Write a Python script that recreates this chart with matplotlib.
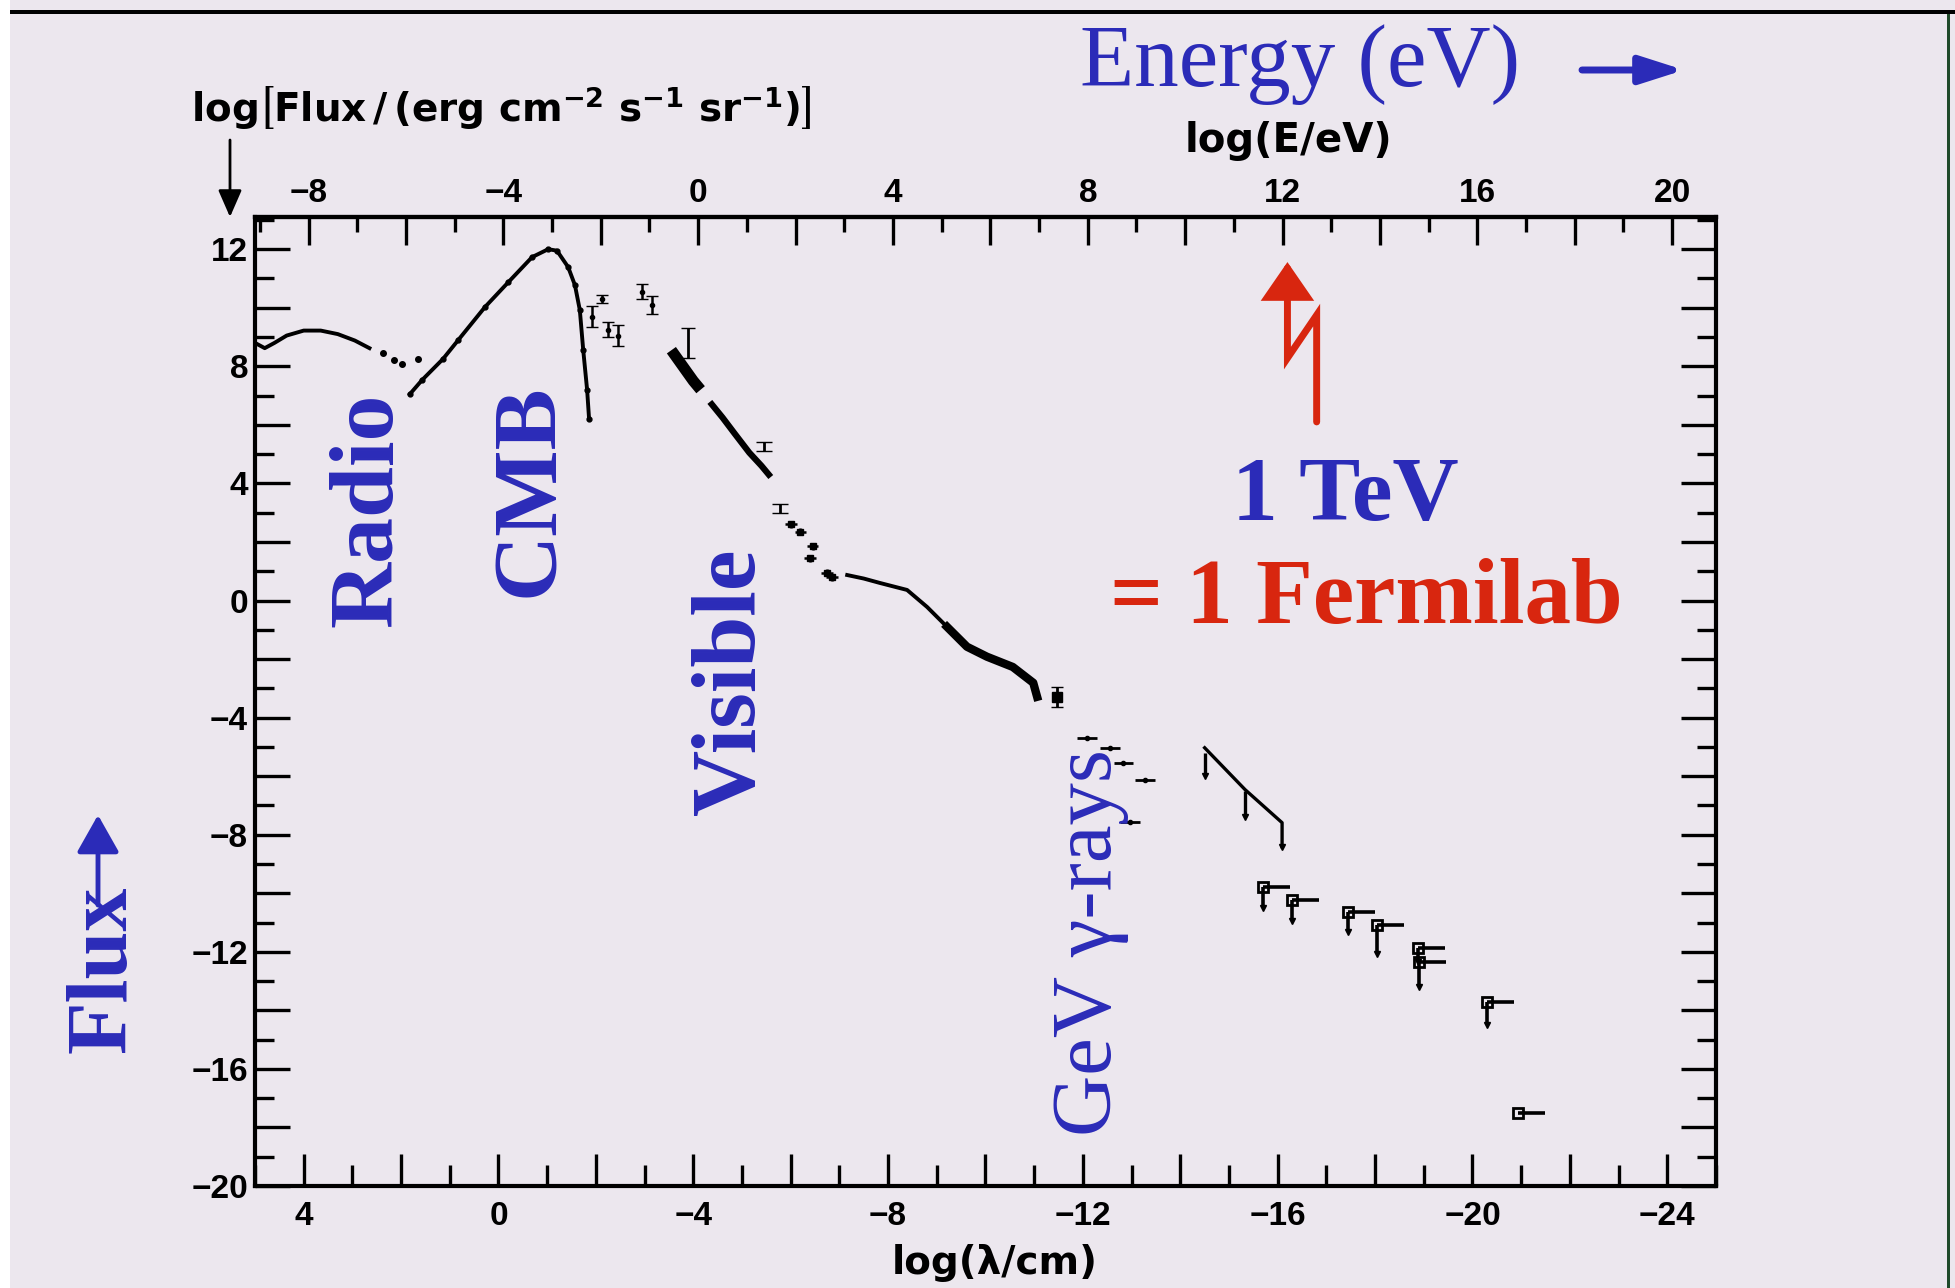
import matplotlib
matplotlib.use("Agg")
import matplotlib.pyplot as plt
from matplotlib.ticker import MultipleLocator, FuncFormatter
from matplotlib.patches import FancyArrowPatch, Rectangle
from matplotlib.path import Path

# ---------------- data ----------------
# log(lambda/cm) , log(flux)
radio_x = [5.0, 4.8, 4.6, 4.35, 4.0, 3.65, 3.3, 2.95, 2.65]
radio_y = [8.8, 8.62, 8.8, 9.05, 9.22, 9.22, 9.1, 8.88, 8.62]
radio_dot_x = [2.37, 2.15, 1.98, 1.65]
radio_dot_y = [8.45, 8.2, 8.08, 8.25]

cmb_x = [1.82, 1.57, 1.14, 0.83, 0.28, -0.20, -0.69, -1.02, -1.2, -1.43, -1.57, -1.67, -1.74, -1.82, -1.86]
cmb_y = [7.05, 7.53, 8.25, 8.89, 10.02, 10.87, 11.73, 12.0, 11.95, 11.39, 10.77, 9.92, 8.55, 7.19, 6.2]

fir_x = [-1.92, -2.13, -2.25, -2.45, -2.95, -3.15]
fir_y = [9.7, 10.3, 9.25, 9.05, 10.55, 10.1]
fir_err = [0.35, 0.15, 0.25, 0.35, 0.25, 0.3]

opt_x = [-3.55, -3.7, -3.85, -4.0, -4.15]
opt_y = [8.55, 8.2, 7.85, 7.5, 7.2]
opt_bar_x = [-3.89]
opt_bar_y = [8.8]
opt_bar_err = [0.5]

uv_x = [-4.38, -4.6, -4.85, -5.15, -5.4, -5.55]
uv_y = [6.7, 6.25, 5.7, 5.05, 4.6, 4.3]
uv_lim_x = [-5.45, -5.78]
uv_lim_y = [5.4, 3.3]

sx_x = [-6.0, -6.2, -6.45, -6.4, -6.75, -6.85]
sx_y = [2.6, 2.35, 1.85, 1.45, 0.95, 0.8]

xr_x = [-7.16, -7.5, -7.83, -8.39, -8.8, -9.21, -9.62, -10.03, -10.56, -10.98, -11.06]
xr_y = [0.87, 0.75, 0.60, 0.36, -0.22, -0.9, -1.58, -1.92, -2.27, -2.81, -3.29]

hx_x = [-11.47]
hx_y = [-3.3]

gam_x = [-12.08, -12.56, -12.83, -13.28, -12.97]
gam_y = [-4.69, -5.03, -5.54, -6.12, -7.56]

tev_x = [-14.5, -15.33, -16.09, -16.09]
tev_y = [-5.03, -6.46, -7.59, -8.41]
tev_lim_x = [-14.5, -15.33]
tev_lim_top = [-5.2, -6.5]
tev_lim_bot = [-6.0, -7.4]

uhe_x = [-15.7, -16.29, -17.44, -18.04, -18.88, -18.9, -20.3, -20.93]
uhe_y = [-9.77, -10.22, -10.63, -11.07, -11.86, -12.35, -13.7, -17.49]
uhe_down = [0.74, 0.74, 0.68, 1.0, 0.5, 0.85, 0.8, 0.0]
uhe_bar = [0.55, 0.55, 0.55, 0.55, 0.55, 0.55, 0.55, 0.55]

E_OFFSET = -4.1          # log(E/eV) = E_OFFSET - log(lambda/cm)  (axis as drawn)
TEV_LOG_E = 12

# ---------------- style ----------------
BG = '#ECE7EE'
BLUE = '#2B2BB8'
RED = '#D8260F'
W, H = 1956, 1288

plt.rcParams['font.family'] = ['Liberation Sans', 'DejaVu Sans']
plt.rcParams['font.weight'] = 'bold'
plt.rcParams['mathtext.fontset'] = 'dejavusans'


def fx(px):
    return px / W


def fy(py):
    return 1 - py / H


fig = plt.figure(figsize=(W / 100, H / 100), dpi=100, facecolor=BG)
ax = fig.add_axes([fx(255), fy(1186), (1716 - 255) / W, (1186 - 217) / H])
ax.set_facecolor(BG)
ax.set_xlim(5, -25)
ax.set_ylim(-20, 13.1)


def fmt4(v, pos):
    n = int(round(v))
    if n % 4:
        return ''
    return ('\u2212' + str(-n)) if n < 0 else str(n)


for a in (ax.xaxis, ax.yaxis):
    a.set_major_locator(MultipleLocator(2))
    a.set_minor_locator(MultipleLocator(1))
    a.set_major_formatter(FuncFormatter(fmt4))

ax.tick_params(axis='both', which='both', direction='in', top=False, right=True,
               width=2.4, color='black', labelsize=24)
ax.tick_params(axis='y', which='major', length=25, pad=5)
ax.tick_params(axis='y', which='minor', length=14)
ax.tick_params(axis='x', which='major', length=23, pad=11)
ax.tick_params(axis='x', which='minor', length=15)
for s in ax.spines.values():
    s.set_linewidth(3)

sec = ax.secondary_xaxis('top', functions=(lambda x: E_OFFSET - x, lambda e: E_OFFSET - e))
sec.xaxis.set_major_locator(MultipleLocator(2))
sec.xaxis.set_minor_locator(MultipleLocator(1))
sec.xaxis.set_major_formatter(FuncFormatter(fmt4))
sec.tick_params(which='both', direction='in', width=2.4, labelsize=24)
sec.tick_params(which='major', length=20, pad=6)
sec.tick_params(which='minor', length=11)
sec.spines['top'].set_linewidth(3)

# ---------------- data marks ----------------
k = 'black'
ax.plot(radio_x, radio_y, color=k, lw=2.8)
ax.plot(radio_dot_x, radio_dot_y, ls='none', marker='o', ms=4, color=k)
ax.plot(cmb_x, cmb_y, color=k, lw=2.8, marker='o', ms=3.5)
ax.errorbar(fir_x, fir_y, yerr=fir_err, fmt='o', ms=3, color=k, capsize=4, lw=1.8)
ax.plot(opt_x, opt_y, color=k, lw=8, solid_capstyle='butt')
ax.errorbar(opt_bar_x, opt_bar_y, yerr=opt_bar_err, fmt='none', ecolor=k, capsize=5, lw=2)
ax.plot(uv_x, uv_y, color=k, lw=4.5)
ax.errorbar(uv_lim_x, uv_lim_y, yerr=[[0.3, 0.3], [0, 0]], fmt='none', ecolor=k,
            capsize=6, lw=2)
ax.errorbar(sx_x, sx_y, xerr=0.12, yerr=0.12, fmt='s', ms=4, color=k, lw=1.8)
ax.plot(xr_x, xr_y, color=k, lw=2.8)
ax.plot(xr_x[5:], xr_y[5:], color=k, lw=6)
ax.errorbar(hx_x, hx_y, yerr=0.35, fmt='s', ms=7, color=k, capsize=4, lw=2)
ax.errorbar(gam_x, gam_y, xerr=0.2, fmt='o', ms=3, color=k, lw=2)
ax.plot(tev_x, tev_y, color=k, lw=2.4)
ax.vlines(tev_lim_x, tev_lim_bot, tev_lim_top, color=k, lw=2.4)
ax.plot(tev_lim_x, tev_lim_bot, ls='none', marker='v', ms=5, color=k)
ax.plot(tev_x[-1:], tev_y[-1:], ls='none', marker='v', ms=5, color=k)
ax.errorbar(uhe_x, uhe_y, xerr=[uhe_bar, [0] * len(uhe_bar)],
            yerr=[uhe_down, [0] * len(uhe_down)], fmt='s', ms=7, mfc='none',
            mec=k, mew=2, ecolor=k, elinewidth=2.6, capsize=0)
ax.plot(uhe_x[:-1], [y - d for y, d in zip(uhe_y[:-1], uhe_down[:-1])], ls='none',
        marker='v', ms=4, color=k)

# ---------------- text ----------------
SERIF = 'Liberation Serif'
fig.text(fx(191), fy(122),
         r'$\mathbf{log\left[Flux\,/\,(erg\ cm^{-2}\ s^{-1}\ sr^{-1})\right]}$',
         fontsize=28, ha='left', va='baseline')
fig.add_artist(FancyArrowPatch((fx(230), fy(140)), (fx(230), fy(217)),
                               transform=fig.transFigure,
                               arrowstyle='-|>,head_length=1.65,head_width=0.72',
                               mutation_scale=10, lw=2, color='black',
                               shrinkA=0, shrinkB=0))

fig.text(fx(1300), fy(86), 'Energy (eV)', family=SERIF, weight='normal', fontsize=64,
         color=BLUE, ha='center', va='baseline')
fig.add_artist(FancyArrowPatch((fx(1582), fy(70)), (fx(1684), fy(70)),
                               transform=fig.transFigure,
                               arrowstyle='-|>,head_length=2.66,head_width=0.85',
                               mutation_scale=10, lw=5, color=BLUE,
                               shrinkA=0, shrinkB=0))
fig.text(fx(1288), fy(141), 'log(E/eV)', family='DejaVu Sans', weight='bold',
         fontsize=29, ha='center', va='center')

ax.set_xlabel('log(\u03bb/cm)', family='DejaVu Sans', weight='bold', fontsize=28)
ax.xaxis.set_label_coords((995 - 255) / 1461, -(1263 - 1186) / 969)
ax.xaxis.label.set_va('center')

ax.text(2.64, 3.09, 'Radio', rotation=90, family=SERIF, weight='bold', fontsize=66,
        color=BLUE, ha='center', va='center')
ax.text(-0.65, 3.77, 'CMB', rotation=90, family=SERIF, weight='bold', fontsize=66,
        color=BLUE, ha='center', va='center')
ax.text(-4.79, -2.78, 'Visible', rotation=90, family=SERIF, weight='bold', fontsize=66,
        color=BLUE, ha='center', va='center')
ax.text(-12.15, -11.7, 'GeV \u03b3-rays', rotation=90, family=SERIF, weight='normal',
        fontsize=61, color=BLUE, ha='center', va='center')

fig.text(fx(105), fy(969), 'Flux', rotation=90, family=SERIF, weight='bold', fontsize=62,
         color=BLUE, ha='center', va='center')
fig.add_artist(FancyArrowPatch((fx(98), fy(905)), (fx(98), fy(815)),
                               transform=fig.transFigure,
                               arrowstyle='-|>,head_length=2.3,head_width=1.3',
                               mutation_scale=10, lw=3.5, color=BLUE,
                               shrinkA=0, shrinkB=0))

fig.text(fx(1345), fy(520), '1 TeV', family=SERIF, weight='bold', fontsize=66,
         color=BLUE, ha='center', va='baseline')
fig.text(fx(1366), fy(623), '= 1 Fermilab', family=SERIF, weight='bold', fontsize=67,
         color=RED, ha='center', va='baseline')

# red zig-zag arrow pointing at 1 TeV on the energy axis
x0 = E_OFFSET - TEV_LOG_E - 0.1
zig = Path([(x0 - 0.6, 6.1), (x0 - 0.6, 9.75), (x0, 8.28), (x0, 11.56)],
           [Path.MOVETO, Path.LINETO, Path.LINETO, Path.LINETO])
ax.add_patch(FancyArrowPatch(path=zig, arrowstyle='-|>,head_length=2.1,head_width=1.45',
                             mutation_scale=10, lw=5, color=RED, joinstyle='miter',
                             shrinkA=0, shrinkB=0))

# frame of the slide
fig.add_artist(Rectangle((0, 0), fx(10), 1, transform=fig.transFigure,
                         color='white', lw=0))
fig.add_artist(Rectangle((fx(10), fy(14)), 1, 4 / H, transform=fig.transFigure,
                         color='black', lw=0))
fig.add_artist(Rectangle((fx(1947), 0), 3 / W, fy(14), transform=fig.transFigure,
                         color='#1f4a2a', lw=0))

fig.savefig('out.png', dpi=100, facecolor=BG)
